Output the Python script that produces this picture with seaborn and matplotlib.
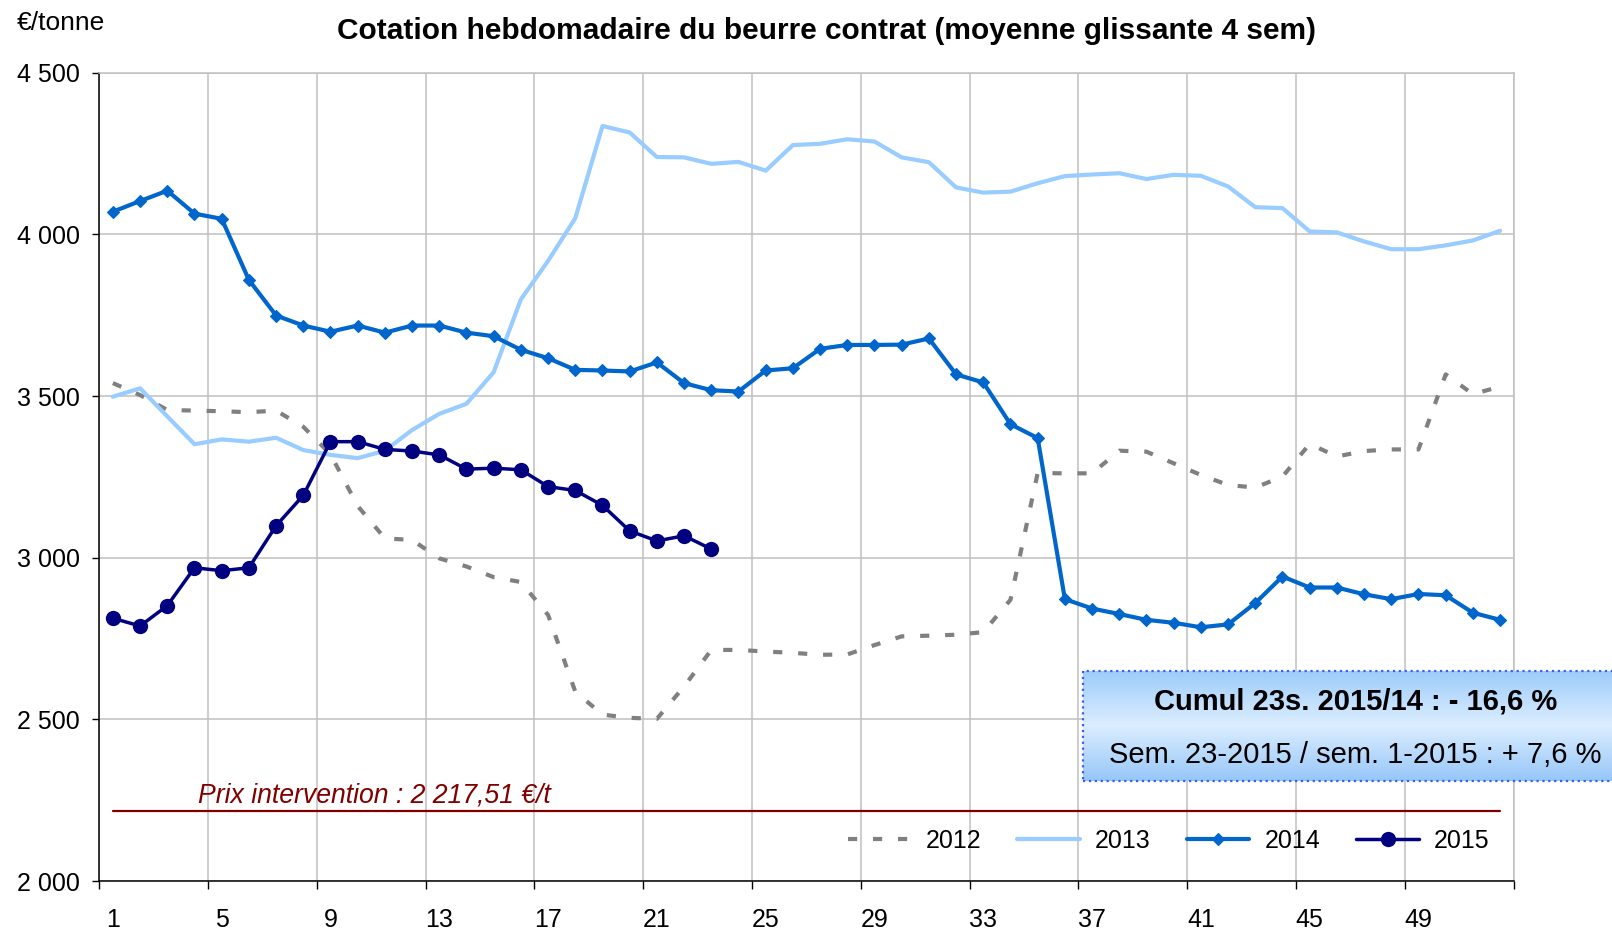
import numpy as np
import pandas as pd
import matplotlib
matplotlib.use("Agg")
import matplotlib.pyplot as plt
import seaborn as sns
from matplotlib.patches import Rectangle
from matplotlib.colors import LinearSegmentedColormap
from matplotlib.ticker import FixedLocator, FuncFormatter, NullFormatter

# Weekly butter contract quotation, 4-week moving average (EUR/tonne)
weeks = list(range(1, 53))

prix_2012 = [3540, 3503, 3457, 3455, 3453, 3450, 3455, 3405, 3320, 3160,
             3060, 3055, 2998, 2973, 2940, 2925, 2823, 2586, 2515, 2505,
             2502, 2602, 2715, 2715, 2710, 2706, 2700, 2701, 2730, 2757,
             2759, 2762, 2770, 2870, 3262, 3261, 3261, 3331, 3328, 3292,
             3256, 3225, 3217, 3251, 3352, 3313, 3330, 3335, 3335, 3567,
             3506, 3529]

prix_2013 = [3498, 3524, 3437, 3351, 3366, 3359, 3371, 3333, 3318, 3308,
             3331, 3395, 3445, 3476, 3574, 3799, 3918, 4050, 4335, 4315,
             4239, 4238, 4218, 4224, 4197, 4276, 4280, 4294, 4287, 4238,
             4223, 4145, 4129, 4132, 4158, 4180, 4185, 4189, 4171, 4184,
             4181, 4148, 4084, 4081, 4009, 4006, 3978, 3954, 3954, 3966,
             3981, 4011]

prix_2014 = [4070, 4103, 4135, 4064, 4048, 3859, 3749, 3718, 3699, 3718,
             3696, 3718, 3718, 3696, 3685, 3643, 3617, 3581, 3579, 3576,
             3604, 3540, 3518, 3514, 3579, 3586, 3646, 3658, 3658, 3659,
             3678, 3567, 3542, 3413, 3370, 2872, 2843, 2826, 2808, 2799,
             2785, 2794, 2860, 2942, 2908, 2908, 2887, 2872, 2888, 2884,
             2830, 2808]

prix_2015 = [2813, 2789, 2852, 2969, 2960, 2969, 3099, 3193, 3359, 3359,
             3335, 3330, 3318, 3274, 3277, 3272, 3220, 3208, 3162, 3083,
             3052, 3068, 3027]

prix_intervention = 2217.51

title = "Cotation hebdomadaire du beurre contrat (moyenne glissante 4 sem)"
unit_label = "€/tonne"
intervention_label = "Prix intervention : 2 217,51 €/t"
box_line1 = "Cumul 23s. 2015/14 : - 16,6 %"
box_line2 = "Sem. 23-2015 / sem. 1-2015 : + 7,6 %"

sns.set_theme(style="white")
plt.rcParams["font.family"] = ["Liberation Sans", "DejaVu Sans"]
for key in ("text.color", "axes.labelcolor", "xtick.color", "ytick.color"):
    plt.rcParams[key] = "black"

fig = plt.figure(figsize=(16.12, 9.3), dpi=100)
ax = fig.add_axes([0.0616, 0.0525, 0.8774, 0.8694])

df12 = pd.DataFrame({"semaine": weeks, "prix": prix_2012})
df13 = pd.DataFrame({"semaine": weeks, "prix": prix_2013})
df14 = pd.DataFrame({"semaine": weeks, "prix": prix_2014})
df15 = pd.DataFrame({"semaine": weeks[:len(prix_2015)], "prix": prix_2015})

sns.lineplot(data=df12, x="semaine", y="prix", ax=ax, color="#808080",
             linewidth=3.0, linestyle=(0, (2.2, 3.8)), errorbar=None,
             label="2012", zorder=3)
sns.lineplot(data=df13, x="semaine", y="prix", ax=ax, color="#99CCFF",
             linewidth=3.0, errorbar=None, label="2013", zorder=4)
sns.lineplot(data=df14, x="semaine", y="prix", ax=ax, color="#0066CC",
             linewidth=3.0, marker="D", markersize=6.0, markeredgewidth=0.8,
             markeredgecolor="#0066CC", errorbar=None, label="2014", zorder=5)
sns.lineplot(data=df15, x="semaine", y="prix", ax=ax, color="#000080",
             linewidth=2.5, marker="o", markersize=11, markeredgewidth=0,
             errorbar=None, label="2015", zorder=6)

# Intervention price reference line
sns.lineplot(x=[weeks[0], weeks[-1]], y=[prix_intervention] * 2, ax=ax,
             color="#800000", linewidth=1.6, errorbar=None, zorder=2)
ax.text(10.6, prix_intervention + 8, intervention_label, color="#800000",
        fontsize=19.2, fontstyle="italic", ha="center", va="bottom")

# Axes, ticks and grid
ax.set_xlim(0.5, 52.5)
ax.set_ylim(2000, 4500)
ax.xaxis.set_major_locator(FixedLocator(np.arange(0.5, 53, 4)))
ax.xaxis.set_major_formatter(NullFormatter())
ax.xaxis.set_minor_locator(FixedLocator(weeks[::4]))
ax.xaxis.set_minor_formatter(FuncFormatter(lambda v, p: f"{int(round(v))}"))
ax.yaxis.set_major_locator(FixedLocator(np.arange(2000, 4501, 500)))
ax.yaxis.set_major_formatter(
    FuncFormatter(lambda v, p: f"{int(v):,}".replace(",", " ")))

ax.tick_params(axis="x", which="major", direction="out", length=6,
               width=1, color="black", bottom=True)
ax.tick_params(axis="x", which="minor", length=0, pad=19, labelsize=18,
               bottom=True)
ax.tick_params(axis="y", which="major", direction="out", length=5,
               width=1, color="black", left=True, pad=9, labelsize=18)

ax.grid(True, axis="both", which="major", color="#C0C0C0", linewidth=1.1)
ax.set_axisbelow(True)
ax.set_xlabel("")
ax.set_ylabel("")

for side in ("left", "bottom"):
    ax.spines[side].set_color("black")
    ax.spines[side].set_linewidth(1.1)
for side in ("top", "right"):
    ax.spines[side].set_color("#C0C0C0")
    ax.spines[side].set_linewidth(1.1)

handles, labels = ax.get_legend_handles_labels()
ax.legend(handles[:4], labels[:4], loc="center right",
          bbox_to_anchor=(0.99, 0.050), ncol=4, frameon=False,
          fontsize=18, handlelength=2.5, handletextpad=0.6,
          columnspacing=1.45, borderaxespad=0)

# Titles
fig.text(0.513, 0.967, title, fontsize=21.5, fontweight="bold",
         ha="center", va="center")
fig.text(0.0102, 0.9757, unit_label, fontsize=19, ha="left", va="center")

# Summary box with vertical gradient and dotted border
bax = fig.add_axes([0.6718, 0.1602, 0.3387, 0.1183])
grad_cmap = LinearSegmentedColormap.from_list(
    "box", ["#9CCBFA", "#DCEEFF", "#96C6F8"])
bax.imshow(np.linspace(0, 1, 256).reshape(-1, 1), cmap=grad_cmap,
           aspect="auto", extent=[0, 1, 0, 1], origin="upper")
bax.add_patch(Rectangle((0, 0), 1, 1, transform=bax.transAxes, fill=False,
                        edgecolor="#3B5BFF", linewidth=1.6, linestyle=":",
                        clip_on=False))
bax.set_axis_off()

fig.text(0.8412, 0.2452, box_line1, fontsize=21, fontweight="bold",
         ha="center", va="center")
fig.text(0.8406, 0.1882, box_line2, fontsize=21, ha="center", va="center")

fig.savefig("out.png", dpi=100)
